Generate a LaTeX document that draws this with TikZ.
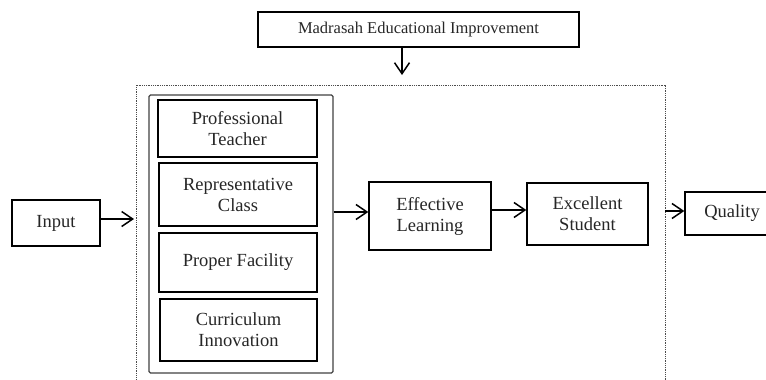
\documentclass[tikz,border=0pt]{standalone}
\usepackage{fontspec}
\setmainfont{Liberation Serif}
\usetikzlibrary{arrows.meta}
\begin{document}
\begin{tikzpicture}[x=1pt,y=-1pt,
  box/.style={draw, line width=1.4pt, rectangle, inner sep=0pt, align=center,
    text=black!85, font=\fontsize{18.5}{21}\selectfont},
  container/.style={draw=black!75, line width=1.3pt, rounded corners=1.5pt, inner sep=0pt},
  dottedframe/.style={draw=black!70, line width=0.9pt, dash pattern=on 0.9pt off 0.9pt},
  flow/.style={line width=1.5pt, -{Straight Barb[length=11pt,width=15pt,line width=1.5pt]}}
]
\useasboundingbox (0,0) rectangle (766,380);
\clip (0,0) rectangle (766,380);
% dotted frame
\draw[dottedframe] (136,392) -- (136,85) -- (665,85) -- (665,392);
\coordinate (dl) at (136,219);
\coordinate (dr) at (665,211);
\coordinate (mt) at (402,85);
% nodes
\node[box, minimum width=321pt, minimum height=35pt, font=\fontsize{16.5}{19}\selectfont] (mad) at (418.5,29.5) {Madrasah Educational Improvement};
\node[container, minimum width=184pt, minimum height=278pt] (cont) at (241,234) {};
\node[box, minimum width=159pt, minimum height=57pt] (pt) at (237.5,128.5) {Professional\\Teacher};
\node[box, minimum width=158pt, minimum height=63pt] (rc) at (238,194.5) {Representative\\Class};
\node[box, minimum width=158pt, minimum height=59pt] (pf) at (238,262.5) {Proper Facility};
\node[box, minimum width=157pt, minimum height=62pt] (ci) at (238.5,330) {Curriculum\\Innovation};
\node[box, minimum width=88pt, minimum height=46pt] (in) at (56,223) {Input};
\node[box, minimum width=122pt, minimum height=68pt] (el) at (430,216) {Effective\\Learning};
\node[box, minimum width=121pt, minimum height=62pt] (es) at (587.5,214) {Excellent\\Student};
\node[box, minimum width=94pt, minimum height=43pt] (q) at (732,213.5) {Quality};
% connectors
\draw[flow] (mad.south -| mt) -- ([yshift=10pt]mt);
\draw[flow] (in.east |- dl) -- ([xshift=-2pt]dl);
\draw[flow] (cont.east |- 0,212) -- (el.west |- 0,212);
\draw[flow] (el.east |- 0,210) -- (es.west |- 0,210);
\draw[flow] (dr) -- (q.west |- dr);
\end{tikzpicture}
\end{document}
